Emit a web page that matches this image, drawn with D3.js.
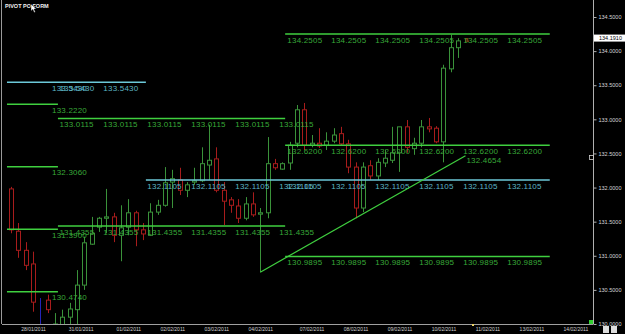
<!DOCTYPE html>
<html>
<head>
<meta charset="utf-8">
<script src="https://cdn.jsdelivr.net/npm/d3@7"></script>
<style>
  html, body { margin: 0; padding: 0; background: #000; }
  svg { display: block; }
</style>
</head>
<body>
<div id="chart"></div>
<script>
// H4 bars, slot index = bar number (slot 4 holds the blue signal arrow, no bar)
var opens  = [131.98,131.36,131.08,130.88,null,130.35,129.90,129.88,130.10,130.21,130.57,131.17,131.42,131.55,131.57,131.30,131.42,131.63,131.38,131.30,131.64,131.74,132.08,132.11,131.96,132.08,132.10,132.33,132.42,131.96,131.82,131.73,131.55,131.76,131.61,131.63,132.35,132.27,132.36,132.65,133.14,132.62,132.65,132.62,132.68,132.79,132.64,132.30,131.70,132.32,132.17,132.36,132.40,132.51,132.89,132.57,132.65,132.89,132.87,132.67,133.74,134.05];
var highs  = [132.01,131.48,131.20,131.06,null,130.43,130.16,130.21,130.31,130.79,131.28,131.57,131.57,131.98,131.63,131.74,131.83,131.66,131.48,131.77,131.82,132.30,132.26,132.29,132.08,132.29,132.59,132.92,132.59,132.08,131.86,131.83,131.86,131.93,131.70,132.74,132.42,132.37,132.67,133.21,133.24,132.77,132.87,132.81,132.87,132.89,132.70,132.37,132.37,132.40,132.43,132.55,132.89,132.89,132.99,132.73,132.99,133.02,132.90,133.80,134.24,134.19];
var lows   = [131.33,130.97,130.79,130.18,null,130.16,129.85,129.85,129.96,129.97,130.50,131.16,131.35,131.33,131.20,130.92,131.30,131.14,131.23,131.29,131.60,131.72,131.70,131.89,131.86,132.04,132.08,132.11,131.93,131.45,131.63,131.48,131.52,131.57,130.76,131.55,132.26,132.26,132.26,132.59,132.55,132.59,132.58,132.55,132.65,132.61,132.21,131.55,131.64,132.11,132.11,132.30,132.36,132.23,132.51,132.48,132.59,132.81,132.65,132.37,133.69,133.90];
var closes = [131.38,131.08,130.86,130.32,null,130.21,130.00,130.10,130.22,130.57,131.19,131.33,131.55,131.57,131.30,131.41,131.63,131.38,131.32,131.64,131.74,132.07,132.13,131.96,132.04,132.10,132.35,132.40,131.96,131.80,131.74,131.55,131.76,131.60,131.63,132.35,132.29,132.35,132.62,133.14,132.62,132.65,132.61,132.68,132.77,132.64,132.30,131.70,132.30,132.17,132.37,132.43,132.51,132.89,132.59,132.65,132.89,132.86,132.67,133.75,134.05,134.15];

var signalSlot = 4;
var signalRange = [130.38, 129.85];

var dateSlots  = [3, 9.5, 16, 22, 28, 34, 41, 47, 53, 59, 65, 71, 77];
var dateLabels = ["28/01/2011","31/01/2011","01/02/2011","02/02/2011","03/02/2011","04/02/2011","07/02/2011","08/02/2011","09/02/2011","10/02/2011","11/02/2011","13/02/2011","14/02/2011"];

var priceTicks = [130, 130.5, 131, 131.5, 132, 132.5, 133, 133.5, 134, 134.5];
var lastPrice = 134.1910;

// pivot levels: value, kind (pp = cyan), first slot, last slot
var levelValues = [133.5430, 133.2220, 132.3060, 131.3900, 130.4740, 133.0115, 131.4355, 132.1105, 134.2505, 132.6200, 130.9895];
var levelKinds  = ["pp", "sr", "sr", "sr", "sr", "sr", "sr", "pp", "sr", "sr", "sr"];
var levelFrom   = [-0.55, -0.55, -0.55, -0.55, -0.55, 6.4, 6.4, 18.4, 37.4, 37.4, 37.4];
var levelTo     = [18.4, 6.4, 6.4, 6.4, 6.4, 37.4, 37.4, 73.5, 73.5, 73.5, 73.5];
var labelSlots  = [5.6, 6.6, 12.6, 18.6, 24.6, 30.6, 36.6, 37.7, 43.7, 49.7, 55.7, 61.7, 67.7];

var trendSlots  = [34, 62];
var trendPrices = [130.76, 132.4654];

var W = 625, H = 334;
var colorGreen = "#3fcf3f";
var colorGreenText = "#38a838";
var colorCyan = "#6cc9d9";
var colorCyanText = "#5db6c6";
var colorUp = "#3a923a";
var colorDown = "#a81c1c";

var x = d3.scaleLinear().domain([-1.23, 79.4]).range([2, 593]);
var y = d3.scaleLinear().domain([130, 134.5]).range([324, 17]);

var svg = d3.select("#chart").append("svg")
    .attr("width", W)
    .attr("height", H)
    .style("background", "#000");

svg.append("clipPath").attr("id", "plot-clip")
    .append("rect").attr("x", 2).attr("y", 0).attr("width", 591).attr("height", 324);

var plot = svg.append("g").attr("clip-path", "url(#plot-clip)");

// candles
var bars = d3.range(opens.length).filter(function(i) { return opens[i] !== null; });
var candle = plot.selectAll(".candle").data(bars).enter().append("g").attr("class", "candle");

candle.append("line")
    .attr("x1", function(i) { return Math.round(x(i)) + 0.5; })
    .attr("x2", function(i) { return Math.round(x(i)) + 0.5; })
    .attr("y1", function(i) { return y(highs[i]); })
    .attr("y2", function(i) { return y(lows[i]); })
    .attr("stroke", function(i) { return closes[i] >= opens[i] ? colorUp : colorDown; })
    .attr("stroke-width", 1);

candle.append("rect")
    .attr("x", function(i) { return Math.round(x(i)) - 1.5; })
    .attr("y", function(i) { return y(Math.max(opens[i], closes[i])); })
    .attr("width", 4)
    .attr("height", function(i) { return Math.max(1, Math.abs(y(opens[i]) - y(closes[i]))); })
    .attr("fill", "#000")
    .attr("stroke", function(i) { return closes[i] >= opens[i] ? colorUp : colorDown; })
    .attr("stroke-width", 1);

// signal arrow
plot.append("line")
    .attr("x1", Math.round(x(signalSlot)) + 0.5)
    .attr("x2", Math.round(x(signalSlot)) + 0.5)
    .attr("y1", y(signalRange[0]))
    .attr("y2", y(signalRange[1]))
    .attr("stroke", "#2424b8")
    .attr("stroke-width", 1);

// pivot lines and their repeated labels
var levels = d3.range(levelValues.length);
plot.selectAll(".level").data(levels).enter().append("line")
    .attr("x1", function(i) { return x(levelFrom[i]); })
    .attr("x2", function(i) { return x(levelTo[i]); })
    .attr("y1", function(i) { return y(levelValues[i]); })
    .attr("y2", function(i) { return y(levelValues[i]); })
    .attr("stroke", function(i) { return levelKinds[i] == "pp" ? colorCyan : colorGreen; })
    .attr("stroke-width", 1.5);

var levelLabels = [];
levels.forEach(function(i) {
    labelSlots.forEach(function(s) {
        if (s > levelFrom[i] && s < levelTo[i]) levelLabels.push({ level: i, slot: s });
    });
});

plot.selectAll(".level-label").data(levelLabels).enter().append("text")
    .attr("x", function(d) { return x(d.slot); })
    .attr("y", function(d) { return y(levelValues[d.level]) + 8.5; })
    .attr("fill", function(d) { return levelKinds[d.level] == "pp" ? colorCyanText : colorGreenText; })
    .style("font-family", "Liberation Sans, Arial, sans-serif")
    .style("font-size", "8px")
    .style("letter-spacing", "0.2px")
    .text(function(d) { return levelValues[d.level].toFixed(4); });

// trend line
plot.append("line")
    .attr("x1", x(trendSlots[0]))
    .attr("y1", y(trendPrices[0]))
    .attr("x2", x(trendSlots[1]))
    .attr("y2", y(trendPrices[1]))
    .attr("stroke", colorGreen)
    .attr("stroke-width", 1.2);

plot.append("text")
    .attr("x", x(trendSlots[1]) + 1)
    .attr("y", y(trendPrices[1]) + 7)
    .attr("fill", colorGreenText)
    .style("font-family", "Liberation Sans, Arial, sans-serif")
    .style("font-size", "8px")
    .style("letter-spacing", "0.2px")
    .text(trendPrices[1].toFixed(4));

// frame
svg.append("line").attr("x1", 1.5).attr("x2", 1.5).attr("y1", 0).attr("y2", 324)
    .attr("stroke", "#9a9a9a").attr("stroke-width", 1);

// right price axis
var yAxis = svg.append("g")
    .attr("transform", "translate(593.5,0)")
    .call(d3.axisRight(y).tickValues(priceTicks).tickSize(3).tickPadding(2).tickFormat(d3.format(".4f")));
yAxis.select(".domain").attr("stroke", "#b0b0b0").attr("d", "M0,0V324");
yAxis.selectAll(".tick line").attr("stroke", "#b0b0b0");
yAxis.selectAll(".tick text")
    .attr("fill", "#d8d8d8")
    .style("font-family", "Liberation Sans, Arial, sans-serif")
    .style("font-size", "5.5px");

// bottom date axis
var xAxis = svg.append("g")
    .attr("transform", "translate(0,324.5)")
    .call(d3.axisBottom(x).tickValues(dateSlots).tickSize(0).tickPadding(3)
        .tickFormat(function(d, i) { return dateLabels[i]; }));
xAxis.select(".domain").attr("stroke", "#a0a0a0").attr("d", "M2,0H593");
xAxis.selectAll(".tick text")
    .attr("fill", "#d0d0d0")
    .style("font-family", "Liberation Sans, Arial, sans-serif")
    .style("font-size", "5px");

// current price tag
var tag = svg.append("g").attr("transform", "translate(594," + (y(lastPrice) - 3.5) + ")");
tag.append("rect").attr("width", 31).attr("height", 7).attr("fill", "#fff");
tag.append("text").attr("x", 5).attr("y", 5.5)
    .attr("fill", "#000")
    .style("font-family", "Liberation Sans, Arial, sans-serif")
    .style("font-size", "5.5px")
    .text(lastPrice.toFixed(4));

// small terminal markers
svg.append("rect").attr("x", 589.5).attr("y", 155.5).attr("width", 4).attr("height", 4)
    .attr("fill", "none").attr("stroke", "#cfcfcf").attr("stroke-width", 0.8);
svg.append("rect").attr("x", 589).attr("y", 320).attr("width", 4).attr("height", 4).attr("fill", "#30d030");
svg.append("rect").attr("x", 472).attr("y", 324).attr("width", 2).attr("height", 2).attr("fill", "#e8d060");
svg.append("text").attr("x", 465).attr("y", 42).attr("fill", "#d08030")
    .style("font-family", "Liberation Sans, Arial, sans-serif").style("font-size", "6px").text("ß");
svg.append("rect").attr("x", 603).attr("y", 326).attr("width", 6).attr("height", 7).attr("fill", "#ddd");
svg.append("rect").attr("x", 611).attr("y", 326).attr("width", 6).attr("height", 7).attr("fill", "#ddd");

// title
svg.append("text").attr("x", 5).attr("y", 8)
    .attr("fill", "#f0f0f0")
    .style("font-family", "Liberation Sans, Arial, sans-serif")
    .style("font-size", "5.5px")
    .style("font-weight", "bold")
    .text("PIVOT PO FORM");
svg.append("path")
    .attr("d", "M31,4 L31,11 L32.8,9.4 L34.2,12.5 L35.4,12 L34,9 L36.4,9 Z")
    .attr("fill", "#fff").attr("stroke", "#000").attr("stroke-width", 0.4);
</script>
</body>
</html>
